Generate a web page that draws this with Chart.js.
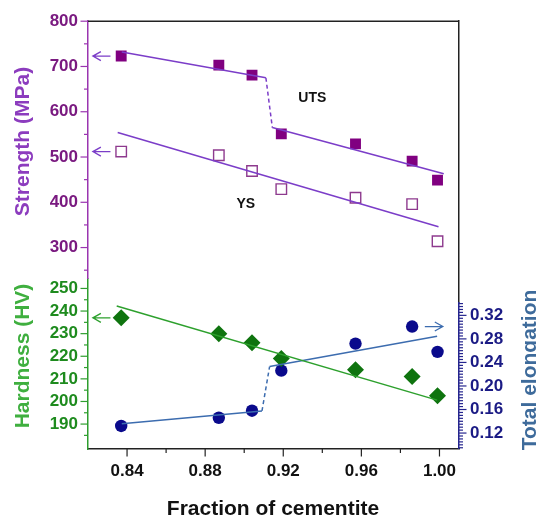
<!DOCTYPE html>
<html>
<head>
<meta charset="utf-8">
<script src="https://cdn.jsdelivr.net/npm/chart.js@4.4.1/dist/chart.umd.min.js"></script>
<style>
  html, body { margin: 0; padding: 0; background: #fff; }
  #wrap { width: 536px; height: 517px; position: relative; }
</style>
</head>
<body>
<div id="wrap"><canvas id="c"></canvas></div>
<script>
// ===== data =====
const FRACTION = [0.837, 0.887, 0.904, 0.919, 0.957, 0.986, 0.999];
const UTS = [723, 703, 681, 551, 529, 491, 449];
const YS = [512, 504, 469, 429, 410, 396, 314];
const HARDNESS = [237, 230, 226, 219, 214, 211, 202.5];
const ELONGATION = [0.132, 0.146, 0.158, 0.226, 0.272, 0.301, 0.258];

// trend lines as [x, y] end points
const UTS_FIT_A = [[0.8373, 732], [0.9111, 675]];
const UTS_FIT_JUMP = [[0.9111, 675], [0.9144, 565]];
const UTS_FIT_B = [[0.9144, 565], [1.0022, 463]];
const YS_FIT = [[0.8352, 554], [0.9995, 346]];
const HV_FIT = [[0.8347, 242.2], [0.9988, 200.6]];
const EL_FIT_A = [[0.8373, 0.1358], [0.9091, 0.1575]];
const EL_FIT_JUMP = [[0.9091, 0.1575], [0.913, 0.233]];
const EL_FIT_B = [[0.913, 0.233], [0.9988, 0.2844]];

const X_TICKS = [0.84, 0.88, 0.92, 0.96, 1.00];
const STRENGTH_TICKS = [300, 400, 500, 600, 700, 800];
const HV_TICKS = [190, 200, 210, 220, 230, 240, 250];
const EL_TICKS = [0.12, 0.16, 0.20, 0.24, 0.28, 0.32];

// colours
const PURPLE = { tick: '#7A1A80', title: '#8C3CBE', axis: '#9A35B0', fill: '#800080', open: '#8E3A8E', line: '#7B3DC8' };
const GREEN = { tick: '#1E8B1E', title: '#3FAF3F', axis: '#2E9E2E', fill: '#0F740F', line: '#2DA02D' };
const BLUE = { tick: '#1B1B85', title: '#3E6B9B', axis: '#25258E', fill: '#0A0A8C', line: '#3C6CAF' };

const FAMILY = '"Liberation Sans", Arial, sans-serif';
const tickFont = { family: FAMILY, size: 17, weight: 'bold' };

// ===== helpers =====
const pts = (xs, ys) => xs.map((x, i) => ({ x, y: ys[i] }));
const seg = a => a.map(([x, y]) => ({ x, y }));
const setTicks = list => s => { s.ticks = list.map(v => ({ value: v })); };

function fit(data, axis, color, dash) {
  return {
    data: seg(data), yAxisID: axis, showLine: true, borderColor: color,
    borderWidth: 1.5, borderDash: dash || [], pointRadius: 0, fill: false
  };
}

function marks(ys, axis, style, r, fill, stroke, bw) {
  return {
    data: pts(FRACTION, ys), yAxisID: axis, showLine: false, pointStyle: style,
    pointRadius: r, pointHoverRadius: r, backgroundColor: fill, borderColor: stroke,
    pointBorderWidth: bw
  };
}

function yAxis(pos, stack, weight, min, max, list, col, digits) {
  return {
    type: 'linear', position: pos, stack, stackWeight: weight, min, max,
    afterBuildTicks: setTicks(list),
    afterFit: s => { s.width = pos === 'left' ? 88 : 77; },
    grid: { display: false, drawTicks: false },
    border: { color: col.axis, width: 1.5 },
    ticks: { font: tickFont, color: col.tick, padding: pos === 'left' ? 10 : 11, autoSkip: false,
      callback: v => digits ? v.toFixed(digits) : v }
  };
}

// tick marks with minor ticks, drawn outward
function tickRun(ctx, scale, lo, hi, step, majors, color, side) {
  ctx.strokeStyle = color;
  const n = Math.round((hi - lo) / step);
  for (let i = 0; i <= n; i++) {
    const v = lo + i * step;
    const major = majors.some(m => Math.abs(m - v) < step / 10);
    const len = major ? 7.5 : 4;
    const p = scale.getPixelForValue(v);
    ctx.beginPath();
    if (side === 'left') { ctx.moveTo(scale.right, p); ctx.lineTo(scale.right - len, p); }
    else if (side === 'right') { ctx.moveTo(scale.left, p); ctx.lineTo(scale.left + len, p); }
    else { ctx.moveTo(p, scale.top); ctx.lineTo(p, scale.top + len); }
    ctx.stroke();
  }
}

function arrow(ctx, x0, x1, y, color) {
  const d = Math.sign(x1 - x0);
  ctx.strokeStyle = color;
  ctx.lineWidth = 1.3;
  ctx.beginPath();
  ctx.moveTo(x0, y); ctx.lineTo(x1, y);
  ctx.moveTo(x1 - d * 8, y - 4.5); ctx.lineTo(x1, y); ctx.lineTo(x1 - d * 8, y + 4.5);
  ctx.stroke();
}

function vText(ctx, text, x, y, color) {
  ctx.save();
  ctx.translate(x, y);
  ctx.rotate(-Math.PI / 2);
  ctx.fillStyle = color;
  ctx.fillText(text, 0, 0);
  ctx.restore();
}

const decorations = {
  id: 'decorations',
  afterDraw(chart) {
    const { ctx, chartArea: a, scales: s } = chart;
    ctx.save();
    // top frame line
    ctx.strokeStyle = '#222'; ctx.lineWidth = 1.5;
    ctx.beginPath(); ctx.moveTo(a.left, a.top); ctx.lineTo(a.right, a.top); ctx.stroke();

    ctx.lineWidth = 1.2;
    tickRun(ctx, s.yS, 250, 800, 50, STRENGTH_TICKS, PURPLE.axis, 'left');
    tickRun(ctx, s.yH, 185, 250, 5, HV_TICKS, GREEN.axis, 'left');
    tickRun(ctx, s.yE, 0.095, 0.34, 0.005, EL_TICKS, BLUE.axis, 'right');
    tickRun(ctx, s.x, 0.84, 1.00, 0.02, X_TICKS, '#222', 'bottom');

    // arrows pointing at the relevant axis
    const x = s.x;
    arrow(ctx, x.getPixelForValue(0.8315), x.getPixelForValue(0.8225), s.yS.getPixelForValue(UTS[0]), PURPLE.line);
    arrow(ctx, x.getPixelForValue(0.8315), x.getPixelForValue(0.8225), s.yS.getPixelForValue(YS[0]), PURPLE.line);
    arrow(ctx, x.getPixelForValue(0.8315), x.getPixelForValue(0.8225), s.yH.getPixelForValue(HARDNESS[0]), GREEN.line);
    arrow(ctx, x.getPixelForValue(0.9925), x.getPixelForValue(1.0017), s.yE.getPixelForValue(ELONGATION[5]), BLUE.line);

    // series labels
    ctx.fillStyle = '#111';
    ctx.font = 'bold 14px ' + FAMILY;
    ctx.textAlign = 'center'; ctx.textBaseline = 'middle';
    ctx.fillText('UTS', x.getPixelForValue(0.9349), s.yS.getPixelForValue(630));
    ctx.fillText('YS', x.getPixelForValue(0.9008), s.yS.getPixelForValue(397));

    // axis titles
    ctx.font = 'bold 21px ' + FAMILY;
    ctx.textBaseline = 'alphabetic';
    vText(ctx, 'Strength (MPa)', 29, 141.5, PURPLE.title);
    vText(ctx, 'Hardness (HV)', 29, 356, GREEN.title);
    vText(ctx, 'Total elongation', 535.5, 370, BLUE.title);
    ctx.fillStyle = '#111';
    ctx.fillText('Fraction of cementite', 273, 515);
    ctx.restore();
  }
};

new Chart(document.getElementById('c'), {
  type: 'scatter',
  data: {
    datasets: [
      fit(UTS_FIT_A, 'yS', PURPLE.line),
      fit(UTS_FIT_JUMP, 'yS', PURPLE.line, [4, 3]),
      fit(UTS_FIT_B, 'yS', PURPLE.line),
      fit(YS_FIT, 'yS', PURPLE.line),
      fit(HV_FIT, 'yH', GREEN.line),
      fit(EL_FIT_A, 'yE', BLUE.line),
      fit(EL_FIT_JUMP, 'yE', BLUE.line, [4, 3]),
      fit(EL_FIT_B, 'yE', BLUE.line),
      marks(UTS, 'yS', 'rect', 7.7, PURPLE.fill, PURPLE.fill, 0),
      marks(YS, 'yS', 'rect', 7.4, 'rgba(0,0,0,0)', PURPLE.open, 1.4),
      marks(HARDNESS, 'yH', 'rectRot', 8.5, GREEN.fill, GREEN.fill, 0),
      marks(ELONGATION, 'yE', 'circle', 6.2, BLUE.fill, BLUE.fill, 0)
    ]
  },
  options: {
    responsive: true, maintainAspectRatio: false, animation: false,
    layout: { padding: { top: 20 } },
    plugins: { legend: { display: false }, tooltip: { enabled: false } },
    scales: {
      x: {
        type: 'linear', min: 0.82, max: 1.01,
        afterBuildTicks: setTicks(X_TICKS),
        afterFit: s => { s.height = 68; },
        grid: { display: false, drawTicks: false },
        border: { color: '#222', width: 1.5 },
        ticks: { font: tickFont, color: '#111', padding: 12, maxRotation: 0, autoSkip: false,
          callback: v => v.toFixed(2) }
      },
      // left boxes are laid out last-first, so hardness is listed before strength
      yH: yAxis('left', 'L', 171, 178.97, 254.41, HV_TICKS, GREEN),
      yS: yAxis('left', 'L', 258, 231.7, 800, STRENGTH_TICKS, PURPLE),
      yR: {
        type: 'linear', position: 'right', stack: 'R', stackWeight: 282, min: 0, max: 1,
        afterFit: s => { s.width = 77; },
        grid: { display: false, drawTicks: false },
        border: { color: '#222', width: 1.5 },
        ticks: { display: false }
      },
      yE: yAxis('right', 'R', 147, 0.0929, 0.342, EL_TICKS, BLUE, 2)
    }
  },
  plugins: [decorations]
});
</script>
</body>
</html>
